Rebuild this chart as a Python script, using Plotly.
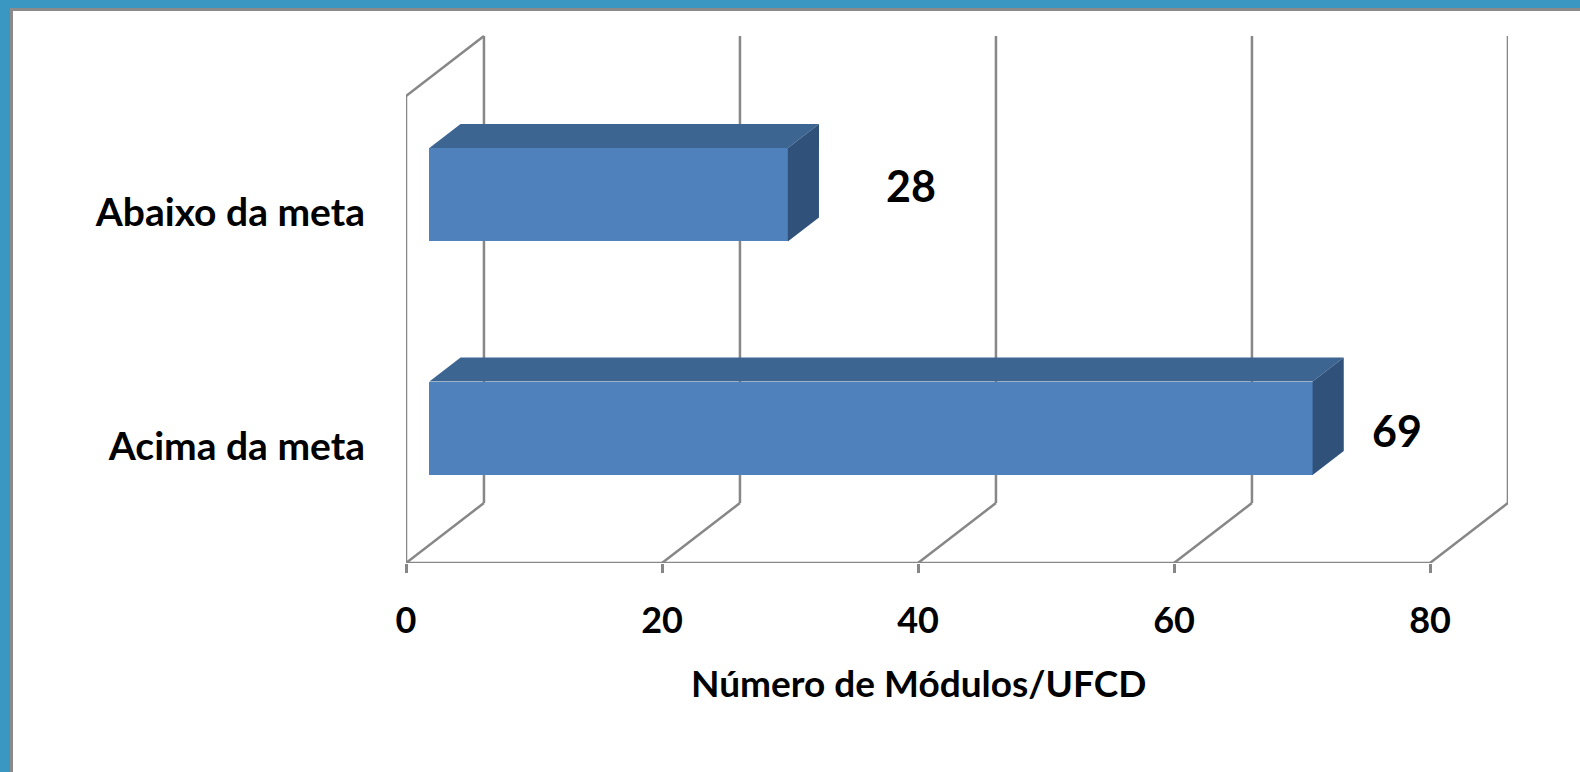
import plotly.graph_objects as go

# ---- data ----
categories = ["Acima da meta", "Abaixo da meta"]
values = [69, 28]
x_ticks = [0, 20, 40, 60, 80]
x_title = "Número de Módulos/UFCD"

# ---- styling / 3-D projection constants ----
FONT = "Lato"
FRONT = "#4F81BD"
TOP = "#3C6591"
SIDE = "#30527A"
GRID = "#878787"
BLUE_FRAME = "#3A97C2"

X_MAX = 80            # end of value axis
DEPTH_X = 6.09        # horizontal shift of the back wall (value units)
DEPTH_Y = 0.257       # vertical shift of the back wall (category units)
BAR_W = 0.4           # bar thickness (category units)
BAR_Z0, BAR_Z1 = 0.3, 0.7   # bar position inside the depth (fractions)
Y_LO, Y_HI = -0.5, 1.5

# data-label nudges (pixels)
LABEL_XSHIFT = [84, 123]
LABEL_YSHIFT = [-2, 9]

fig = go.Figure()

# front faces of the bars
fx0 = BAR_Z0 * DEPTH_X
fy0 = BAR_Z0 * DEPTH_Y
fig.add_trace(go.Bar(
    orientation="h",
    x=values,
    y=[i + fy0 for i in range(len(categories))],
    base=fx0,
    width=BAR_W,
    marker=dict(color=FRONT, line=dict(width=0)),
    hoverinfo="skip",
))

# top and side faces drawn as filled polygons
dz = BAR_Z1 - BAR_Z0
for i, v in enumerate(values):
    xl = fx0
    xr = fx0 + v
    yb = i + fy0 - BAR_W / 2
    yt = i + fy0 + BAR_W / 2
    ddx = dz * DEPTH_X
    ddy = dz * DEPTH_Y
    # top face
    fig.add_trace(go.Scatter(
        x=[xl, xr, xr + ddx, xl + ddx, xl],
        y=[yt, yt, yt + ddy, yt + ddy, yt],
        fill="toself", fillcolor=TOP, mode="lines",
        line=dict(width=0, color=TOP), hoverinfo="skip",
    ))
    # side face
    fig.add_trace(go.Scatter(
        x=[xr, xr + ddx, xr + ddx, xr, xr],
        y=[yb, yb + ddy, yt + ddy, yt, yb],
        fill="toself", fillcolor=SIDE, mode="lines",
        line=dict(width=0, color=SIDE), hoverinfo="skip",
    ))

shapes = []
# frame around the chart area
W, H = 1102.0, 530.0   # plot area size in px
L, B = 406.0, 563.0    # plot area origin (left, bottom) in px


def px_x(p):
    return (p - L) / W


def px_y(p):
    return (B - p) / H


shapes.append(dict(type="rect", xref="paper", yref="paper", layer="below",
                   x0=px_x(10), x1=px_x(1600), y0=px_y(8), y1=px_y(800),
                   fillcolor="#8A8A8A", line=dict(width=0)))
shapes.append(dict(type="rect", xref="paper", yref="paper", layer="below",
                   x0=px_x(13), x1=px_x(1600), y0=px_y(11), y1=px_y(800),
                   fillcolor="white", line=dict(width=0)))

grid_line = dict(color=GRID, width=2.5)
# back-wall gridlines and floor diagonals
for t in x_ticks:
    shapes.append(dict(type="line", xref="x", yref="y", layer="below",
                       x0=t, y0=Y_LO, x1=t + DEPTH_X, y1=Y_LO + DEPTH_Y,
                       line=grid_line))
    shapes.append(dict(type="line", xref="x", yref="y", layer="below",
                       x0=t + DEPTH_X, y0=Y_LO + DEPTH_Y,
                       x1=t + DEPTH_X, y1=Y_HI + DEPTH_Y,
                       line=grid_line))
# left wall: front edge and top diagonal
shapes.append(dict(type="line", xref="x", yref="y", layer="below",
                   x0=0, y0=Y_LO, x1=0, y1=Y_HI, line=grid_line))
shapes.append(dict(type="line", xref="x", yref="y", layer="below",
                   x0=0, y0=Y_HI, x1=DEPTH_X, y1=Y_HI + DEPTH_Y, line=grid_line))
# value axis line
shapes.append(dict(type="line", xref="x", yref="y", layer="below",
                   x0=0, y0=Y_LO, x1=X_MAX, y1=Y_LO, line=grid_line))
# category tick marks
for yv in [Y_LO, 0.5, Y_HI]:
    shapes.append(dict(type="line", xref="x", yref="y", layer="below",
                       xsizemode="pixel", xanchor=0, x0=-13, x1=0,
                       y0=yv, y1=yv, line=grid_line))

annotations = []
for i, v in enumerate(values):
    annotations.append(dict(
        x=fx0 + v, y=i + fy0, xref="x", yref="y", text=f"<b>{v}</b>",
        showarrow=False, xanchor="center", yanchor="middle",
        xshift=LABEL_XSHIFT[i], yshift=LABEL_YSHIFT[i],
        font=dict(family=FONT, size=43, color="black"),
    ))
annotations.append(dict(
    x=X_MAX / 2, y=px_y(682), xref="x", yref="paper",
    text=f"<b>{x_title}</b>", showarrow=False,
    xanchor="center", yanchor="middle",
    font=dict(family=FONT, size=37, color="black"),
))

fig.update_layout(
    width=1580, height=772,
    margin=dict(l=406, r=72, t=33, b=209, pad=0),
    paper_bgcolor=BLUE_FRAME,
    plot_bgcolor="rgba(0,0,0,0)",
    showlegend=False,
    shapes=shapes,
    annotations=annotations,
    bargap=0,
    xaxis=dict(
        range=[0, W / 12.8], showgrid=False, zeroline=False, showline=False,
        tickmode="array", tickvals=x_ticks, ticktext=[str(t) for t in x_ticks],
        ticks="outside", ticklen=9, tickwidth=2.5, tickcolor=GRID,
        ticklabelstandoff=17,
        tickfont=dict(family=FONT, size=36, color="black", weight="bold"),
        fixedrange=True,
    ),
    yaxis=dict(
        range=[Y_LO, Y_LO + H / 233.5], showgrid=False, zeroline=False,
        showline=False, tickmode="array", tickvals=list(range(len(categories))),
        ticktext=categories, ticks="", ticklabelstandoff=40,
        tickfont=dict(family=FONT, size=39, color="black", weight="bold"),
        fixedrange=True,
    ),
)

fig.write_html("out.html")
